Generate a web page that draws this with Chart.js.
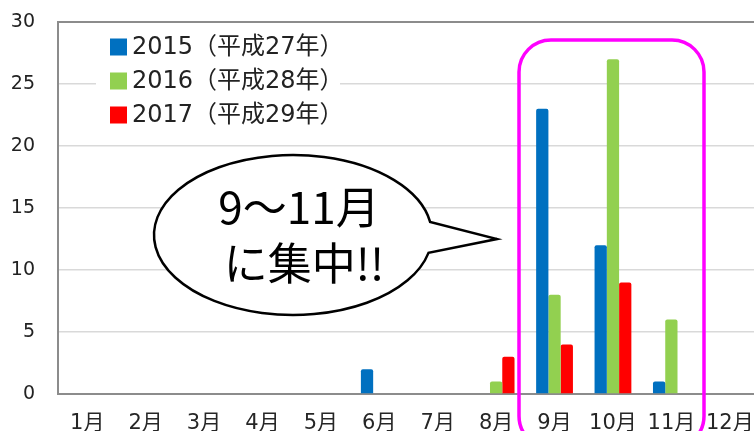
<!DOCTYPE html>
<html>
<head>
<meta charset="utf-8">
<script src="https://cdn.jsdelivr.net/npm/chart.js@4"></script>
<style>
  html, body { margin: 0; padding: 0; background: #fff; overflow: hidden; }
</style>
</head>
<body>
<canvas id="myChart" width="762" height="431"></canvas>
<script>
const months = ['1月', '2月', '3月', '4月', '5月', '6月', '7月', '8月', '9月', '10月', '11月', '12月'];
const data2015 = [0, 0, 0, 0, 0, 2, 0, 0, 23, 12, 1, 0];
const data2016 = [0, 0, 0, 0, 0, 0, 0, 1, 8, 27, 6, 0];
const data2017 = [0, 0, 0, 0, 0, 0, 0, 3, 4, 9, 0, 0];
const seriesLabels = ['2015（平成27年）', '2016（平成28年）', '2017（平成29年）'];
const seriesColors = ['#0070c0', '#92d050', '#ff0000'];
const yTicks = [0, 5, 10, 15, 20, 25, 30];
const bubbleLines = ['9～11月', 'に集中!!'];

const ctx = document.getElementById('myChart');

// legend, frame, speech bubble and highlight box
const extras = {
    id: 'extras',
    afterDraw(chart) {
        const c = chart.ctx;
        const area = chart.chartArea;
        c.save();

        // top frame line
        c.strokeStyle = '#8c8c8c';
        c.lineWidth = 2;
        c.beginPath();
        c.moveTo(area.left - 1, area.top);
        c.lineTo(area.right + 5, area.top);
        c.stroke();

        // legend box
        c.fillStyle = '#fff';
        c.fillRect(96, 30, 244, 96);
        c.font = '24px "DejaVu Sans", "Noto Sans CJK JP"';
        c.textBaseline = 'middle';
        c.textAlign = 'left';
        chart.data.datasets.forEach((ds, i) => {
            const y = 47 + i * 34;
            c.fillStyle = ds.backgroundColor;
            c.fillRect(110, y - 8.5, 17, 17);
            c.fillStyle = '#222';
            c.fillText(ds.label, 132, y + 1);
        });

        // speech bubble
        const cx = 293, cy = 235, rx = 139, ry = 80;
        const t1 = -0.165, t2 = 0.225;
        c.beginPath();
        c.ellipse(cx, cy, rx, ry, 0, t2, t1 + Math.PI * 2);
        c.lineTo(497, 239);
        c.closePath();
        c.fillStyle = '#fff';
        c.fill();
        c.strokeStyle = '#000';
        c.lineWidth = 2.5;
        c.stroke();

        c.fillStyle = '#000';
        c.font = '44px "Noto Sans CJK JP"';
        c.textAlign = 'center';
        c.textBaseline = 'middle';
        c.fillText(bubbleLines[0], 299, 207);
        c.fillText(bubbleLines[1], 304, 263);

        // magenta highlight
        c.strokeStyle = '#ff00ff';
        c.lineWidth = 3.5;
        c.beginPath();
        c.roundRect(519, 40, 185, 408, 32);
        c.stroke();

        c.restore();
    }
};

const myChart = new Chart(ctx, {
    type: 'bar',
    data: {
        labels: months,
        datasets: [
            { label: seriesLabels[0], data: data2015, backgroundColor: seriesColors[0] },
            { label: seriesLabels[1], data: data2016, backgroundColor: seriesColors[1] },
            { label: seriesLabels[2], data: data2017, backgroundColor: seriesColors[2] }
        ]
    },
    options: {
        responsive: false,
        animation: false,
        layout: { padding: { top: 22, right: 3, left: 0, bottom: 0 } },
        datasets: {
            bar: {
                barPercentage: 1,
                categoryPercentage: 0.63,
                borderRadius: { topLeft: 2, topRight: 2 },
                borderSkipped: 'bottom'
            }
        },
        plugins: {
            legend: { display: false },
            tooltip: { enabled: false }
        },
        scales: {
            x: {
                grid: { display: false, drawTicks: false },
                border: { color: '#8c8c8c', width: 2 },
                ticks: {
                    color: '#262626',
                    font: { family: '"DejaVu Sans", "Noto Sans CJK JP"', size: 21 },
                    padding: 17,
                    maxRotation: 0,
                    autoSkip: false
                },
                afterFit(scale) {
                    scale.height = 37;
                    scale.paddingLeft = 0;
                    scale.paddingRight = 0;
                }
            },
            y: {
                min: 0,
                max: 30,
                afterBuildTicks(scale) { scale.ticks = yTicks.map(v => ({ value: v })); },
                grid: { color: '#d9d9d9', lineWidth: 1.5, drawTicks: false },
                border: { color: '#8c8c8c', width: 2 },
                ticks: {
                    color: '#222',
                    font: { family: '"DejaVu Sans"', size: 19 },
                    padding: 23
                },
                afterFit(scale) {
                    scale.width = 58;
                    scale.paddingTop = 0;
                    scale.paddingBottom = 0;
                }
            }
        }
    },
    plugins: [extras]
});
</script>
</body>
</html>
